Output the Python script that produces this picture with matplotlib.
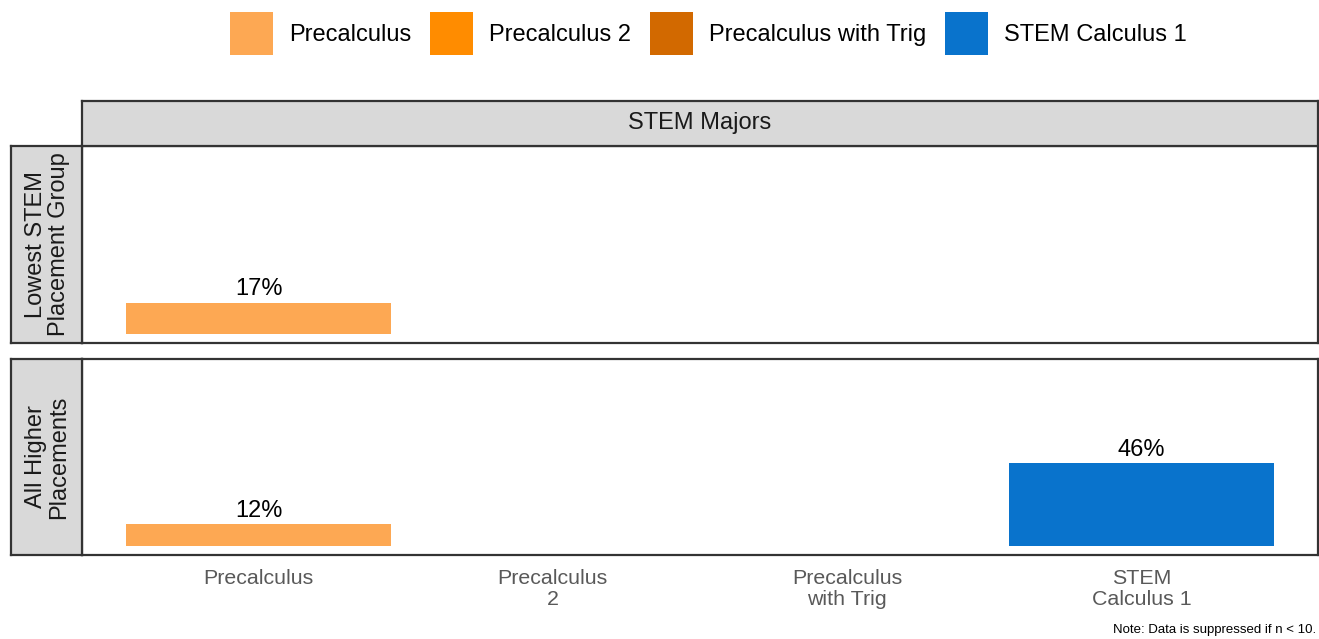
import numpy as np
import matplotlib
matplotlib.use("Agg")
import matplotlib.pyplot as plt
from matplotlib.patches import Patch

plt.rcParams['font.family'] = ['Liberation Sans', 'DejaVu Sans']

# Data
courses = ['Precalculus', 'Precalculus 2', 'Precalculus with Trig', 'STEM Calculus 1']
tick_labels = ['Precalculus', 'Precalculus\n2', 'Precalculus\nwith Trig', 'STEM\nCalculus 1']
colors = ['#FDA853', '#FF8C00', '#D26900', '#0973CC']
row_labels = ['Lowest STEM\nPlacement Group', 'All Higher\nPlacements']
col_label = 'STEM Majors'
lowest_pct = [17, np.nan, np.nan, np.nan]
higher_pct = [12, np.nan, np.nan, 46]
panel_values = [lowest_pct, higher_pct]

fig = plt.figure(figsize=(13.19, 6.39), dpi=100)

strip_bg = '#D9D9D9'
edge = '#333333'

left, right = 82 / 1319, 1318 / 1319
panel_boxes = [(146, 343), (359, 555)]
x = np.arange(1, len(courses) + 1)

for i, (vals, (ytop, ybot)) in enumerate(zip(panel_values, panel_boxes)):
    b = 1 - ybot / 639
    h = (ybot - ytop) / 639
    ax = fig.add_axes([left, b, right - left, h])
    for xi, v, c in zip(x, vals, colors):
        if np.isnan(v):
            continue
        ax.bar(xi, v, width=0.9, color=c)
        ax.annotate(f'{v:.0f}%', (xi, v), xytext=(0, 2), textcoords='offset points',
                    ha='center', va='bottom', fontsize=17, color='black')
    ax.set_xlim(0.4, 4.6)
    ax.set_ylim(-5, 104)
    ax.set_yticks([])
    ax.set_xticks(x)
    if i == len(panel_values) - 1:
        ax.set_xticklabels(tick_labels, fontsize=15.4, color='#595959', linespacing=1.15)
    else:
        ax.set_xticklabels([])
    ax.tick_params(axis='x', length=0, pad=10)
    for s in ax.spines.values():
        s.set_color(edge)
        s.set_linewidth(1.6)

    # row strip
    sax = fig.add_axes([11 / 1319, b, left - 11 / 1319, h])
    sax.set_facecolor(strip_bg)
    sax.set_xticks([])
    sax.set_yticks([])
    for s in sax.spines.values():
        s.set_color(edge)
        s.set_linewidth(1.6)
    sax.text(0.52, 0.5, row_labels[i], rotation=90, ha='center', va='center',
             fontsize=17, color='#1a1a1a', transform=sax.transAxes, linespacing=1.05)

# column strip
cax = fig.add_axes([left, 1 - 146 / 639, right - left, 45 / 639])
cax.set_facecolor(strip_bg)
cax.set_xticks([])
cax.set_yticks([])
for s in cax.spines.values():
    s.set_color(edge)
    s.set_linewidth(1.6)
cax.text(0.5, 0.5, col_label, ha='center', va='center', fontsize=17,
         color='#1a1a1a', transform=cax.transAxes)

# legend
handles = [Patch(facecolor=c, edgecolor='none') for c in colors]
fig.legend(handles, courses, loc='center', bbox_to_anchor=(0.537, 1 - 33.5 / 639),
           ncol=4, frameon=False, fontsize=17, handlelength=1.82, handleheight=2.36,
           handletextpad=0.68, columnspacing=0.8, borderpad=0.2)

fig.text(0.998, 0.004, 'Note: Data is suppressed if n < 10.', ha='right', va='bottom',
         fontsize=9.5, color='black')

fig.savefig('out.png', dpi=100)
